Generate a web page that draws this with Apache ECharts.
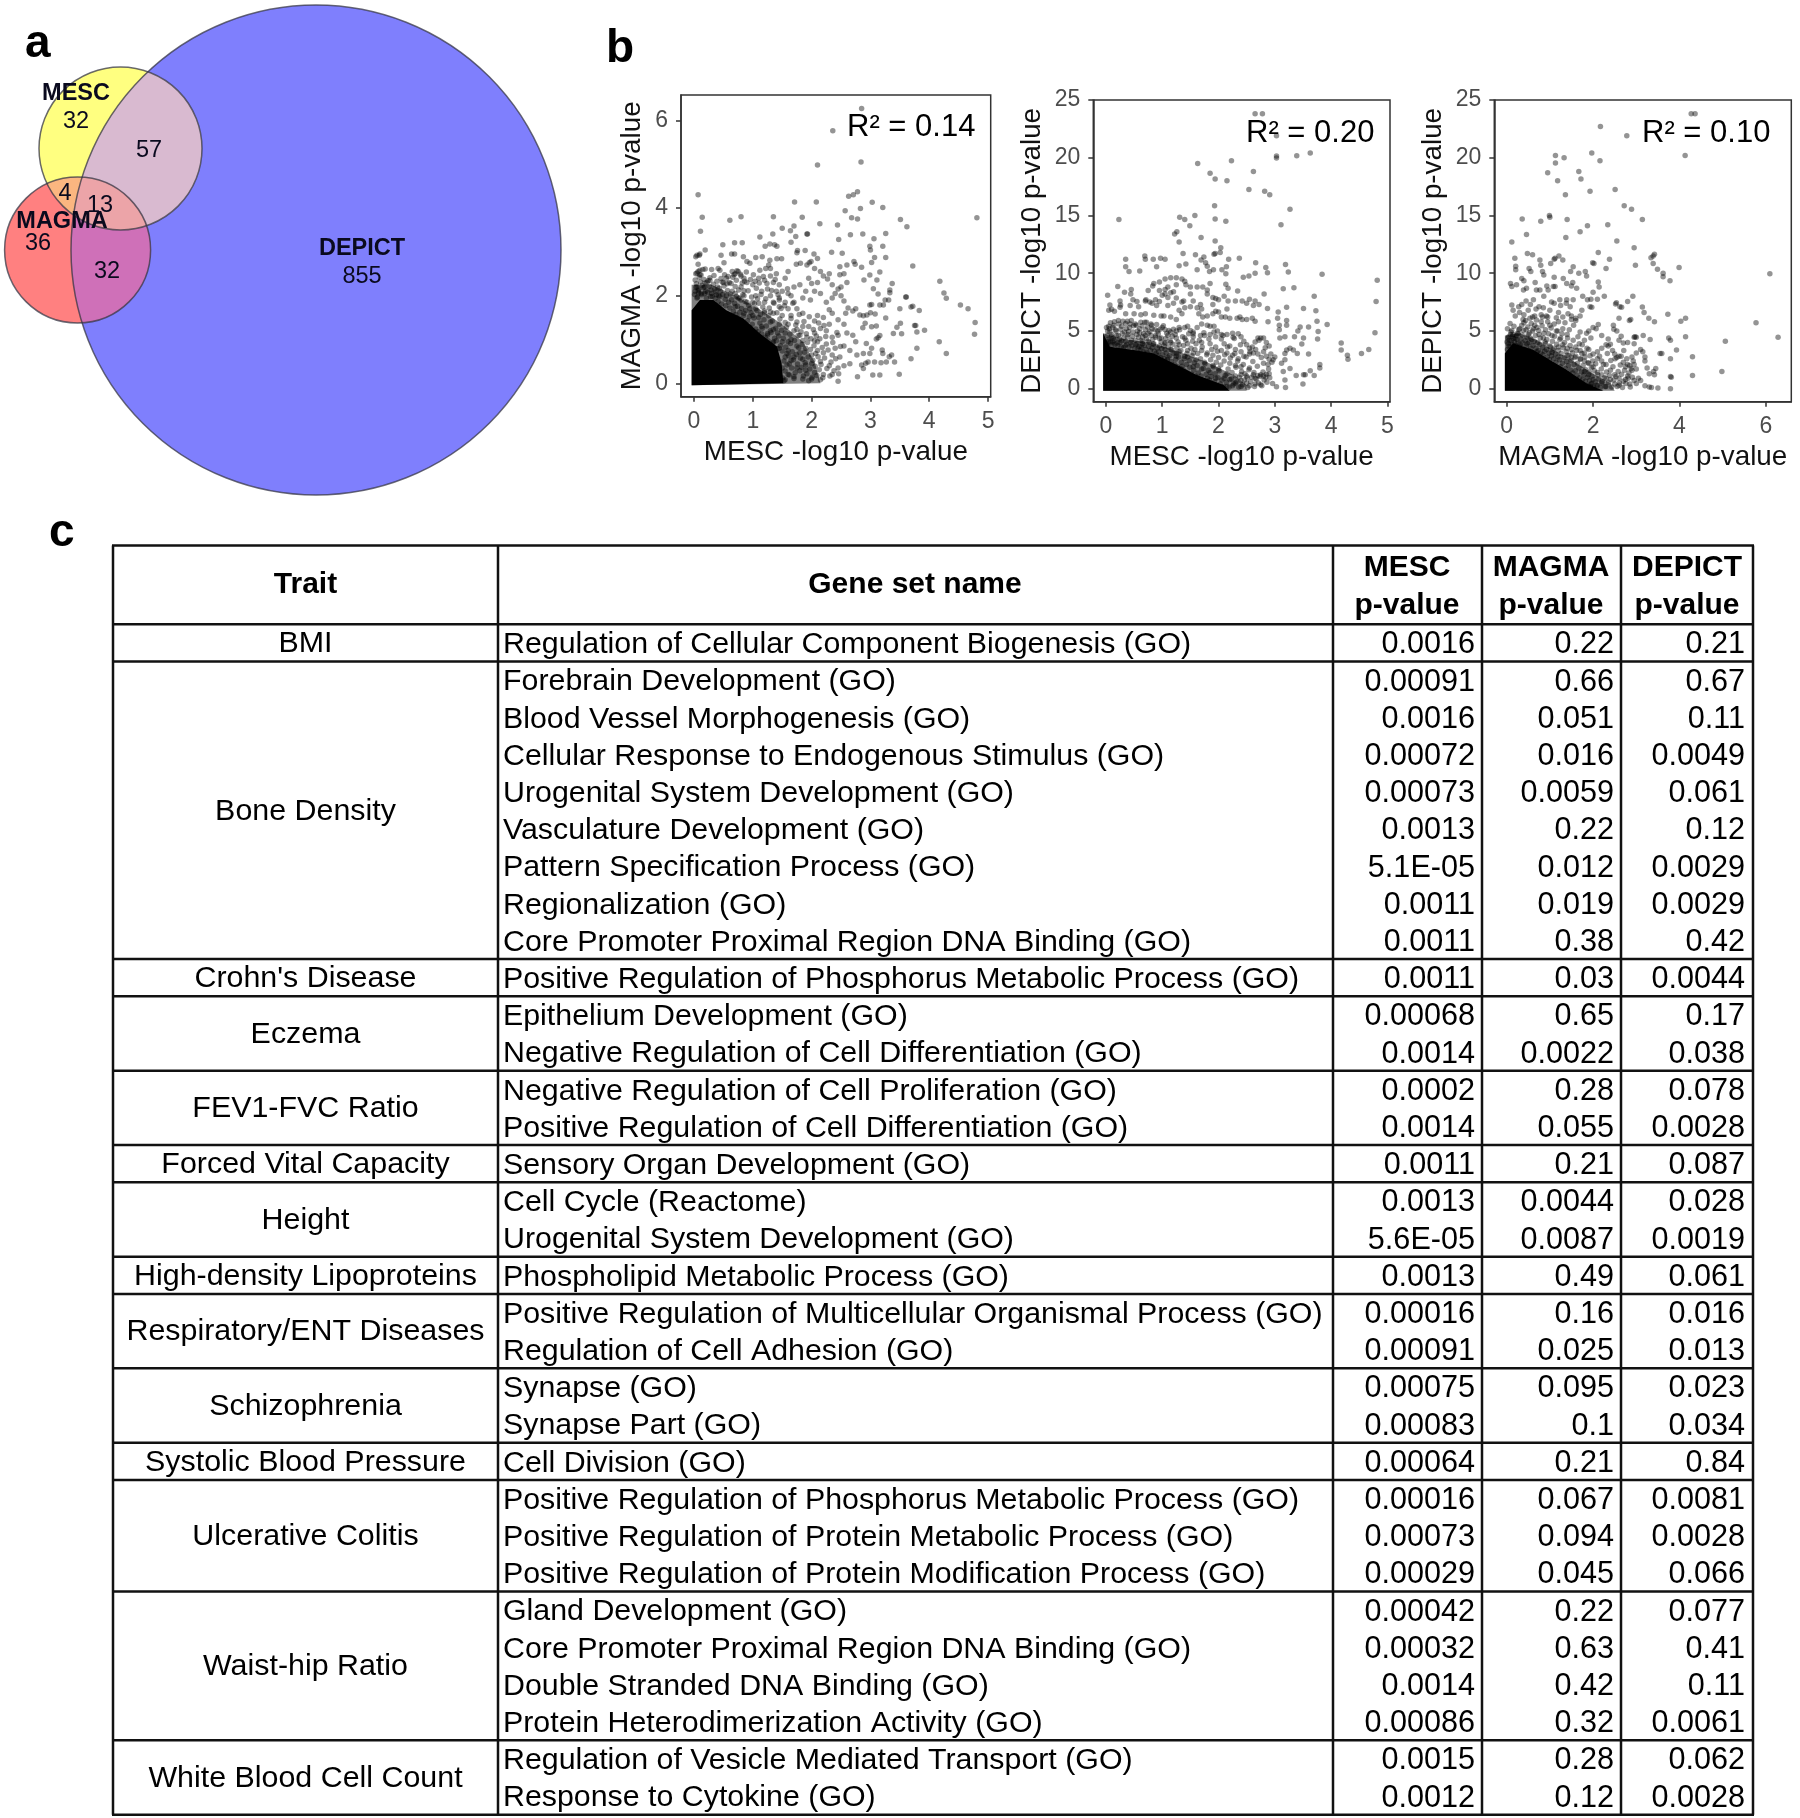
<!DOCTYPE html>
<html>
<head>
<meta charset="utf-8">
<title>Gene set enrichment comparison</title>
<script src="https://cdn.jsdelivr.net/npm/echarts@6/dist/echarts.min.js"></script>
<style>
  html, body { margin: 0; padding: 0; background: #fff; }
  #main { width: 1800px; height: 1818px; }
</style>
</head>
<body>
<div id="main"></div>
<script>
// panel a: venn circles, in the pixel-like units of a hidden 600x500 axis pair
const vennCircleX = [316, 120.5, 77.6];   // DEPICT, MESC, MAGMA
const vennCircleY = [250, 148.5, 250];
const vennCircleR = [245, 81.5, 73];
const vennNames = [['MESC', 76, 94], ['MAGMA', 62, 222], ['DEPICT', 362, 249]];
const vennCounts = [['32', 76, 122], ['57', 149, 151], ['4', 65, 194], ['13', 100, 206], ['36', 38, 244], ['32', 107, 272], ['855', 362, 277]];

// panel b: points; core* outlines the solid black mass, mid* the nearly solid zone round it
const coreMescMagma = [[-0.04,-0.04],[-0.04,1.67],[0.1,1.9],[0.33,1.9],[0.55,1.67],[0.84,1.48],[1.12,1.14],[1.41,0.84],[1.49,0.46],[1.52,0]];
const coreMescDepict = [[-0.05,-0.17],[-0.05,4.8],[0.07,3.64],[0.49,3.35],[0.84,3.06],[1.2,2.2],[1.61,1.18],[2.09,0.32],[2.2,-0.17]];
const coreMagmaDepict = [[-0.04,-0.17],[-0.04,3.06],[0.15,3.93],[0.62,3.35],[1,2.48],[1.39,1.62],[1.85,0.46],[2.24,-0.17]];
const midMescMagma = [[-0.04,-0.04],[-0.04,2.25],[0.3,2.25],[0.7,2],[1.1,1.7],[1.5,1.35],[1.85,0.95],[2.05,0.5],[2.15,0]];
const midMescDepict = [[-0.05,-0.17],[-0.05,4.8],[0.3,4.3],[0.8,4],[1.3,3.2],[1.8,2.3],[2.3,1.1],[2.5,0.3],[2.5,-0.17]];
const midMagmaDepict = [[-0.04,-0.17],[-0.04,4.6],[0.3,4.8],[0.7,4.2],[1.1,3.3],[1.5,2.5],[2,1.3],[2.4,0.5],[2.5,-0.17]];

const scatterMescMagma = [
[2.85,6.27],[2.36,5.76],[2.84,5.05],[2.1,4.98],[0.07,4.3],[2.78,4.37],[2.63,4.27],[2.71,4.3],[1.71,4.14],[2.08,4.14],[3.03,4.13],[3.21,4.01],[2.83,3.99],[2.57,3.94],[0.14,3.79],[0.61,3.72],[0.8,3.8],[1.35,3.8],[1.84,3.79],[2.68,3.78],[2.78,3.75],[3.51,3.74],[4.81,3.78],[2.14,3.64],[2.44,3.61],[3.62,3.57],[1.5,3.54],[1.7,3.59],[1.64,3.48],[0.11,3.47],[1.34,3.41],[1.92,3.41],[1.93,3.41],[1.73,3.35],[2.66,3.39],[2.87,3.41],[3.26,3.42],[1.12,3.34],[2.46,3.28],[3.06,3.3],[1.65,3.22],[0.49,3.16],[0.69,3.21],[0.82,3.21],[1.21,3.13],[1.29,3.18],[1.37,3.16],[1.41,3.13],[2.99,3.13],[3.21,3.13],[3,3.04],[0.19,3.04],[1.76,3.03],[1.89,3.03],[1.75,2.98],[2.04,2.95],[2.34,2.99],[2.52,2.97],[0.05,2.92],[0.09,2.92],[0.03,2.89],[0.1,2.95],[0.64,2.95],[0.69,2.95],[0.46,2.92],[0.84,2.89],[1.05,2.87],[1.16,2.89],[3.07,2.87],[3.26,2.87],[2.1,2.85],[0.9,2.78],[0.95,2.74],[0.07,2.72],[0.51,2.75],[1.29,2.81],[1.41,2.84],[1.49,2.84],[1.27,2.7],[1.74,2.72],[1.81,2.74],[1.96,2.75],[1.92,2.7],[1.99,2.78],[2.72,2.78],[3.02,2.76],[2.6,2.7],[2.74,2.72],[2.48,2.66],[2.85,2.65],[3.72,2.68],[0.1,2.58],[0.19,2.61],[0.3,2.6],[0.41,2.62],[0.44,2.58],
[4.18,2.33],[4.25,2.06],[4.29,1.94],[4.53,1.79],[4.66,1.7],[4.78,1.39],[4.77,1.12],[4.17,0.95],[4.29,0.68],[3.79,0.8],[3.69,0.56],[3.49,0.21],[3.16,0.19],[3.04,0.19],[2.78,0.15],[2.45,0.05],[3.92,1.21],[3.79,1.17],[3.75,1.32],[3.77,1.32],[3.61,1.97],[3.6,1.97],[3.72,1.76],[3.69,1.74],[3.83,1.66],[3.5,1.7],[3.31,1.9],[3.37,2.28],[3.33,2.13],[3.33,2.07],[3.11,2.36],[3.16,2.54],[2.89,2.36],[2.99,2.47],[3.13,2.04],[3.05,2.16],[3.25,1.9],[3.22,1.79],[3.16,1.79],[3.26,1.49],[2.99,1.79],[3.02,1.8],[3.08,1.58],[3,1.61],[3.51,1.37],[3.53,1.13],[3.39,1.14],[3.45,1.28],[3.16,1.09],[3.13,1.04],[3.1,1.01],[3.02,1.29],[3.1,1.31],[2.91,1.37],[2.87,1.27],[2.94,1.56],[2.88,1.54],[2.82,1.56],[3.21,0.68],[3.2,0.76],[3.36,0.65],[3.32,0.61],[3.41,0.49],[3.27,0.49],[3.18,0.47],[3.07,0.49],[2.93,0.91],[3.02,0.8],[2.99,0.68],[2.88,0.68],[2.77,0.65],[2.92,0.46],[2.96,0.49],[2.88,0.34],[2.85,0.42],
[2.05,2.62],[2.15,2.55],[2.2,2.45],[2.3,2.5],[2.27,2.38],[2.1,2.3],[2,2.28],[1.95,2.4],[2.35,2.25],[2.48,2.48],[2.55,2.5],[2.6,2.3],[2.5,2.2],[2.45,2.15],[2.4,2.05],[2.5,2],[2.35,1.95],[2.15,2.05],[2.05,2.1],[1.9,2.1],[1.85,1.95],[1.98,1.9],[2.25,1.85],[2.55,1.88],[2.62,1.72],[2.7,1.65],[2.58,1.6],[2.75,1.7],[2.3,1.68],[2.35,1.6],[2.45,1.45],[2.2,1.5],[2.1,1.55],[2.05,1.42],[2.3,1.35],[2.55,1.35],[2.6,1.15],[2.7,1.1],[2.45,1.1],[2.35,1.05],[2.25,1.2],[2.15,1.25],[2.05,1.15],[1.95,1.3],[1.92,1.05],[2.1,0.95],[2.25,0.9],[2.4,0.8],[2.55,0.85],[2.65,0.75],[2.75,0.95],[2.48,0.6],[2.35,0.65],[2.2,0.7],[2.1,0.75],[2,0.65],[1.9,0.8],[1.85,0.55],[2,0.45],[2.15,0.5],[2.3,0.4],[2.45,0.35],[2.55,0.4],[2.65,0.45],[1.75,0.35],[1.9,0.3],[2.05,0.25],[2.2,0.2],[2.35,0.2],[1.7,0.15],[1.85,0.1],[2,0.1],[2.15,0.08],[1.6,0.2],[1.55,0.08],
[1,2.25],[1.1,2.4],[1.2,2.35],[1.3,2.45],[1.22,2.62],[1.12,2.58],[1.3,2.62],[1.4,2.5],[1.35,2.3],[1.45,2.25],[1.55,2.4],[1.6,2.55],[1.5,2.1],[1.4,2.1],[1.25,2.15],[1.15,2.1],[1.05,2],[1.3,2],[1.45,1.95],[1.6,2.05],[1.7,2.2],[1.8,2.25],[1.65,2],[1.7,1.85],[1.55,1.85],[1.35,1.85],[1.2,1.85],[1.45,1.75],[1.6,1.7],[1.75,1.7],[1.85,1.6],[1.65,1.55],[1.5,1.55],[1.35,1.6],[1.2,1.65],[1.05,1.7],[1.1,1.5],[1.3,1.4],[1.45,1.35],[1.6,1.35],[1.75,1.4],[1.85,1.3],[1.7,1.2],[1.55,1.15],[1.42,1.15],[1.3,1.2],[1.8,1.1],[1.65,1],[1.5,0.95],[1.75,0.85],[1.6,0.75],[1.55,0.6],[1.7,0.6],[1.8,0.7],[1.62,0.45],[1.5,0.35],[0.85,2],[0.9,1.85],[0.75,1.95],[1,1.85],[0.95,1.7],[0.85,1.6],[0.7,1.75],[1,1.55],[1.15,1.3],[1.25,1.1],[1.35,0.95],[1.45,0.8],
[0.02,2.1],[0.05,2.2],[0.08,2.15],[0.12,2.05],[0.18,2.2],[0.22,2.3],[0.27,2.35],[0.2,2.1],[0.3,2.05],[0.35,2.15],[0.4,2.2],[0.45,2.1],[0.5,2.3],[0.55,2.4],[0.6,2.3],[0.65,2.55],[0.7,2.5],[0.75,2.55],[0.8,2.45],[0.72,2.35],[0.85,2.4],[0.9,2.3],[0.8,2.2],[0.65,2.1],[0.55,2],[0.7,2.05],[0.42,2],[0.03,2.5],[0.07,2.55],[0.1,2.48],[0.15,2.6],[0.05,1.95]
];
// flat x,y pairs for the crowded area next to the solid mass
const fringeMescMagma = [
.01,2.03,.04,2.27,.07,2.11,.02,2.36,.11,2.31,.13,2.02,.16,2.18,.06,1.97,.19,2.29,.23,2.08,.26,2.21,.28,1.98,.09,2.42,.17,2.37,.03,2.19,.21,1.95,.24,2.34,.14,2.24,.29,2.13,.05,2.52,.12,2.47,.08,2.06,.27,2.41,.18,2.05,
.31,1.99,.33,2.26,.36,1.94,.37,2.09,.39,2.33,.41,1.87,.43,2.17,.46,2.39,.47,1.81,.49,2.03,.51,2.22,.53,1.92,.54,1.77,.57,2.12,.58,2.44,.59,1.85,.34,2.46,.44,1.98,.52,2.48,.56,2.27,.38,2.02,.48,2.31,
.61,1.72,.62,2.04,.64,1.91,.66,2.42,.67,1.64,.69,1.83,.7,2.21,.71,1.57,.73,2.57,.74,1.76,.76,2.13,.77,1.95,.78,1.62,.79,2.49,.81,1.71,.83,2.02,.84,1.54,.86,2.33,.87,1.87,.88,1.66,.89,2.54,.63,2.28,.68,2.48,.72,1.98,.75,1.5,.82,2.29,.85,2.11,.8,1.9,
.91,1.43,.92,2.11,.93,1.78,.95,1.28,.96,2.37,.97,1.61,.98,1.97,.99,1.35,1.01,2.48,1.02,1.49,1.03,1.82,1.05,1.24,1.06,2.17,1.07,1.66,1.08,1.93,1.09,1.18,1.11,2.29,1.12,1.38,1.13,1.57,1.14,2.03,1.16,1.26,1.17,1.74,1.18,2.44,1.19,1.45,.94,1.52,1.04,2.33,1.1,1.83,1.15,1.13,1.2,1.61,
1.21,1.05,1.22,1.93,1.23,1.31,1.24,2.28,1.26,.97,1.27,1.54,1.28,1.72,1.29,.88,1.31,1.16,1.32,2.12,1.33,1.42,1.34,.92,1.36,1.83,1.37,1.03,1.38,2.37,1.39,1.26,1.41,1.61,1.42,.79,1.43,2.02,1.44,1.08,1.46,1.47,1.47,.86,1.48,1.71,1.49,1.21,1.25,1.14,1.3,1.63,1.35,1.23,1.4,.97,1.45,1.9,1.5,.74,
1.51,.12,1.52,1.03,1.53,.51,1.54,1.77,1.55,.28,1.56,.83,1.57,1.28,1.58,.42,1.59,2.16,1.61,.63,1.62,.19,1.63,1.12,1.64,.91,1.65,1.48,1.66,.35,1.67,.72,1.68,1.83,1.69,.54,1.71,.98,1.72,.24,1.73,1.33,1.74,.66,1.76,.44,1.77,1.09,1.78,.81,1.79,1.57,1.53,.06,1.6,.95,1.7,.11,1.75,1.23,1.8,.29,1.55,1.39,1.65,.52,1.58,.68,
1.81,.58,1.82,1.18,1.83,.37,1.84,.89,1.86,.17,1.87,1.41,1.88,.71,1.89,.47,1.91,1.13,1.92,.22,1.93,.93,1.94,.6,1.96,1.52,1.97,.33,1.98,.77,1.99,1.02,2.01,.14,2.02,.53,2.03,1.23,2.04,.86,2.06,.39,2.07,.68,2.08,1.08,2.09,.18,1.85,.98,1.95,.06,2.05,.97,1.9,.42,
2.11,.61,2.13,.31,2.14,1.02,2.16,.43,2.18,.82,2.19,.13,2.22,.58,2.24,1.07,2.26,.34,2.28,.76,2.31,.17,2.33,.49,2.36,.93,2.38,.29,2.41,.56,2.43,1.16,2.46,.22,2.49,.84,2.12,1.38,2.21,1.32
];

const scatterMescDepict = [
[2.65,23.8],[2.78,23.8],[3.03,21.9],[3.03,20.15],[3.03,19.98],[3.39,20.18],[3.63,20.4],[1.63,19.5],[2.23,19.75],[2.62,18.8],[1.85,18.65],[1.94,18.15],[2.15,18],[2.54,17.25],[2.82,17.1],[2.91,16.8],[1.93,15.85],[3.27,15.55],[0.23,14.65],[1.31,14.85],[1.4,14.65],[1.58,15],[1.94,14.7],[2.13,14.5],[1.49,14.1],[3.11,14.2],[1.26,13.6],[1.22,13.4],[1.69,13.1],[1.94,12.8],[1.3,12.7],[2.04,12.2],[2.03,11.8],[1.37,11.7],[1.59,11.6],[1.92,11.65],[1.94,11.7],[1.74,11.4],[1.69,11.15],[2.18,11.2],[2.37,11.3],[0.35,11.2],[0.35,10.55],[0.69,11.5],[0.7,11.2],[0.84,11.2],[0.97,11.3],[1.05,11.2],[1.3,10.65],[1.42,10.8],[1.77,10.9],[1.8,10.6],[2.66,10.9],[3.19,10.75],[2.84,10.5],[0.41,10.15],[0.6,10.2],[0.9,10.55],[1.62,10.3],[1.84,10.15],[1.91,10.3],[2.06,10.3],[2.14,10.55],[2.13,9.95],[2.44,9.65],[2.54,9.75],[2.65,10],[2.87,10.05],[3.24,10.1],[3.84,9.9],[4.82,9.4],[4.8,7.55],[4.78,4.85],[2.13,9.05],[2.17,8.7],[3.15,8.65],[3.34,8.75],[0.03,8.1],[0.21,8.85],[0.33,8.35],[0.45,8.6],[0.44,8.2],[2.34,8.45],[2.81,8.2],[3.7,8],[0.05,6.8],[0.1,6.87],[0.07,7.25],[0.25,7.6],[0.26,7.25],[0.25,7.05],[0.43,7.2],[0.55,7.55],[0.71,7.7],[0.75,8.5],[0.83,8.9],[3.51,6.95],[3.73,6.75],[3.75,5.85],[3.93,5.55],[3.77,4.95],[3.76,4.3],[3.6,5.35],[3.6,3],[3.45,5.35],[3.41,5],[3.35,4.5],[3.51,4.4],[3.48,3.87],[4.18,3.95],[4.18,3.35],[4.29,2.9],[4.3,2.55],[4.54,3.05],[4.67,3.4],[3.8,2.1],[3.8,1.8],[3.63,1.55],[3.7,1.15],[3.54,1.2],[3.51,1.2],[3.38,1.15],[3.5,0.4],[3.19,0.1],[3.03,0.17],[2.96,0.45],[3.06,6.65],[3.05,6.1],[3.08,5.5],[3.21,7.05],[3.21,5.9],[3.08,5.1],[3.21,5.5],[2.88,5.8],[2.87,6.95],[3.09,4.4],[3.18,4.5],[3.33,3.35],[3.4,3.05],[3.21,3.35],[3.18,3.05],[3.27,3.5],[3,2.75],[2.97,2.5],[3.18,2.5],[3.12,2.2],[3.27,1.75],[3.15,1.5],[3.18,0.75],
[0.05,5.4],[0.08,5.7],[0.15,5.8],[0.22,5.9],[0.3,5.85],[0.38,5.85],[0.45,5.9],[0.52,5.6],[0.62,5.75],[0.72,5.75],[0.8,5.6],[0.9,5.55],[1,5.3],[0.15,6.7],[0.35,6.5],[0.5,6.5],[0.62,6.4],[0.7,6.5],[0.85,6.35],[0.98,6.3],[1.03,6.3],[1.15,6.2],[1.25,6],[1.35,6.5],[1.3,6.8],[1.4,7],[1.5,7.1],[1.62,7],[1.68,7.3],[1.7,6.9],[1.65,6.5],[1.72,6.2],[1.8,6.3],[1.9,6.5],[1.95,6.7],[2.05,6.2],[2.12,6.2],[2.2,6.1],[2.33,6.1],[2.38,6.2],[2.42,6],[2.5,6],[2.6,6.1],[2.65,5.85],[0.48,7.7],[0.58,7.1],[0.7,7.6],[0.78,7.5],[0.82,7.4],[0.88,7.7],[0.9,7.2],[0.95,7.55],[1,8.1],[1.05,8.2],[1.1,7.9],[1.15,8.3],[1.05,8.6],[1.1,8.8],[1.2,8.4],[1.25,9.6],[1.15,9.6],[1.05,9.5],[0.95,9.25],[0.85,9.1],[0.95,8.5],[1.25,9],[1.35,9.5],[1.4,9.3],[1.42,9],[1.5,8.8],[1.62,8.8],[1.72,8.8],[1.8,8.55],[1.85,9.1],[1.8,8.2],[1.9,7.9],[1.95,7.8],[2,7.7],[2.1,8],[2.17,7.6],[1.5,8.2],[1.38,7.6],[1.35,7.5],[1.25,7.85],[1.2,7.4],[1.1,7.2],[1.55,7.6],[1.9,7.3],[2,6.65],[2.15,6.9],[2.3,7.6],[2.42,7.6],[2.5,7.4],[2.55,7.75],[2.65,7.6],[2.62,7.2],[2.72,7.3],
[1.05,5.1],[1.15,4.9],[1.25,5],[1.3,5.3],[1.4,5.3],[1.45,5.4],[1.5,5.05],[1.55,4.9],[1.62,5.3],[1.7,5.6],[1.8,5.5],[1.85,5.4],[1.92,5.4],[1.98,5],[2.05,4.7],[2.15,4.7],[2.25,4.8],[2.28,4.35],[2.35,4.75],[2.4,4.5],[2.45,4.1],[2.5,3.8],[2.55,3.5],[2.6,3.6],[2.65,4.05],[2.7,4.4],[2.75,4.4],[2.8,4.4],[2.85,4],[2.9,3.7],[2.62,3.1],[2.55,3],[2.7,3],[2.8,3.2],[2.85,2.8],[2.9,2.55],[2.95,2.3],[2.8,2.2],[1.1,4.6],[1.25,4.4],[1.4,4.4],[1.55,4.5],[1.68,4.6],[1.75,4.6],[1.85,4.7],[1.95,4.5],[2.05,4.3],[2.1,3.9],[2.2,3.7],[2.3,3.4],[2.4,3.2],[2.45,2.8],[2.35,2.6],[2.25,2.9],[2.15,3.1],[2.05,3.3],[1.95,3.6],[1.85,3.9],[1.7,4],[1.6,3.9],[1.45,3.9],[1.3,3.8],[1.15,4],[1.05,3.9],[1.15,3.4],[1.3,3.2],[1.45,3.3],[1.55,3.1],[1.7,3.3],[1.8,3.1],[1.9,2.9],[2,2.7],[2.1,2.4],[2.2,2.2],[2.3,2],[2.4,1.9],[2.55,1.8],[2.62,1.2],[2.7,1.15],[2.75,1.2],[2.8,1.1],[2.85,1.25],[2.9,1.3],[2.65,0.9],[2.5,1.1],[2.4,1.2],[2.3,1.1],[2.4,0.7],[2.5,0.5],[2.65,0.4],[2.75,0.35],[2.55,0.25],[2.3,0.5],[2.2,0.8],[2.15,1.3],[2,1.7],[1.9,2],[1.75,2.3],[1.6,2.5],[1.4,2.8],[1.25,2.8],[2.1,0.9],[1.85,1.4],[1.7,1.7],[1.55,1.9],[2.25,0.25],[2.4,0.2],[2.15,0.2],[1.95,0.9],[1.8,0.9],
[0.03,5],[0.07,4.9],[0.12,5.3],[0.18,5],[0.22,4.6],[0.28,5.4],[0.33,4.9],[0.38,4.5],[0.42,5.3],[0.48,4.9],[0.55,4.7],[0.6,5.2],[0.65,4.5],[0.7,5.1],[0.75,4.8],[0.82,5.2],[0.88,4.6],[0.92,5],[0.98,4.4],[0.15,4.2],[0.25,4],[0.35,4.1],[0.45,4.2],[0.55,3.9],[0.65,3.9],[0.75,4.1],[0.85,3.9],[0.95,3.7],[1.05,3.4],[0.05,4.3],[0.1,4.5],[0.02,4.6]
];
const fringeMescDepict = [
.02,3.9,.05,4.1,.03,3.7,.08,4.05,.11,3.8,.13,4.4,.16,3.85,.19,4.6,.21,3.75,.24,4.3,.27,3.6,.29,4.75,.06,5.2,.1,4.7,.14,5.5,.17,5.1,.2,3.95,.23,5.6,.26,5.15,.12,4.05,.01,5.3,.28,4.15,
.31,3.55,.32,4.4,.34,3.7,.36,5.2,.37,3.85,.39,4.7,.41,3.6,.43,5.6,.44,4,.46,3.75,.47,4.55,.49,5.45,.51,3.5,.52,4.2,.53,3.8,.56,5,.57,3.45,.58,4.45,.59,3.65,.4,4.95,.35,5.65,.54,5.5,.6,4.85,
.61,3.35,.62,4.15,.63,3.6,.64,5.45,.66,3.2,.67,4.75,.68,3.75,.69,5.75,.71,3.4,.72,4.35,.73,3.1,.74,5.35,.76,3.65,.77,4,.78,4.95,.79,3.3,.81,5.5,.82,3.55,.83,4.25,.84,3.85,.86,3.25,.87,5.1,.88,4.45,.89,3.05,.7,4.6,.8,4.6,.65,4.1,
.91,3.5,.92,2.85,.93,4.75,.94,3.2,.96,5.15,.97,2.7,.98,4.05,.99,3.45,1.01,2.95,1.02,5.45,1.03,3.7,1.04,2.6,1.06,4.35,1.07,3.1,1.08,4.8,1.09,2.5,1.11,3.6,1.12,5.05,1.13,2.85,1.14,4.15,1.16,2.35,1.17,3.35,1.18,4.55,1.19,3.85,.95,4.35,1.05,4,1.1,2.7,1.2,5.15,
1.21,3.05,1.22,2.1,1.23,4.7,1.24,2.55,1.26,3.55,1.27,1.9,1.28,4.05,1.29,2.75,1.31,5.1,1.32,1.75,1.33,3.3,1.34,2.3,1.36,4.5,1.37,1.65,1.38,3.75,1.39,2.6,1.41,1.5,1.42,4.2,1.43,2.1,1.44,3.05,1.46,1.35,1.47,4.75,1.48,2.45,1.49,1.85,1.51,3.5,1.52,1.25,1.53,2.85,1.54,4.1,1.56,1.6,1.57,2.25,1.58,3.4,1.59,1.1,1.25,3.1,1.35,1.95,1.45,2.75,1.55,4.75,
1.61,.95,1.62,2,1.63,3.05,1.64,1.35,1.66,4.2,1.67,.8,1.68,2.6,1.69,1.1,1.71,3.6,1.72,.7,1.73,1.75,1.74,4.85,1.76,2.15,1.77,.55,1.78,1.25,1.79,2.95,1.81,.45,1.82,1.6,1.83,4.3,1.84,.75,1.86,2.5,1.87,1.05,1.88,3.4,1.89,.35,1.91,1.9,1.92,4.9,1.93,.6,1.94,1.3,1.96,2.3,1.97,.25,1.98,3.25,1.99,.95,
2.01,1.55,2.03,.4,2.04,2.05,2.06,.75,2.08,4.6,2.09,.2,2.11,2.95,2.12,1.15,2.14,.55,2.16,3.6,2.17,1.7,2.19,.15,2.21,2.65,2.23,.85,2.24,1.4,2.26,4.45,2.27,.4,2.29,3.05,2.31,1.85,2.32,.6,2.34,2.4,2.36,.15,2.37,1,2.39,3.8,2.41,1.5,2.43,.35,2.44,2.1,2.46,.75,2.47,1.3,2.49,2.75,2.51,.95,2.52,.1,2.54,1.65,2.56,3.2,2.57,.6,2.59,1,2.61,2.35,2.63,1.4,2.64,.2,2.66,3.4,2.67,.85,2.69,1.95,2.71,.5,2.72,4.2,2.74,1.05,2.76,2.7,2.77,.25,2.79,1.45,2.81,.75,2.83,3.55,2.84,1,2.86,.55,2.88,2.1,2.89,1.7,2.91,.95,2.93,3
];

const scatterMagmaDepict = [
[2.17,22.7],[2.78,21.9],[4.27,23.8],[4.36,23.8],[4.13,20.2],[1.13,20.2],[1.33,20],[1.97,20.4],[2.16,19.75],[1.13,19.55],[1.67,18.8],[1.72,18.15],[0.95,18.7],[1.18,18],[1.93,17.1],[2.51,17.25],[1.36,16.8],[2.72,15.85],[2.89,15.55],[3.14,14.65],[0.36,14.7],[0.99,15],[1,14.85],[0.79,14.5],[1.4,14.65],[1.87,14.1],[2.34,14.2],[0.46,13.35],[1.7,13.6],[1.37,13.1],[2.55,12.8],[0.12,12.7],[2.95,12.2],[2.12,11.8],[0.48,11.7],[0.6,11.6],[3.42,11.65],[3.39,11.5],[3.34,11.35],[3.39,10.85],[3.49,10.35],[3.62,10],[3.62,9.7],[3.78,9.35],[3.99,10.5],[2.98,10.7],[2.38,11.2],[0.19,11.3],[0.21,10.6],[0.21,10.3],[0.52,10.4],[0.56,10.15],[0.77,11.15],[0.79,10.7],[0.83,10.15],[0.86,9.85],[1.02,10.85],[1.1,11.2],[1.21,11.5],[1.3,11.15],[1.12,11.3],[6.09,9.95],[5.77,5.7],[6.28,4.45],[5.06,4.1],[4.98,1.5],[4.3,2.77],[4.3,1.15],[4.14,6.1],[4.03,5.85],[3.73,6.45],[4.14,4.5],[3.75,4.4],[3.79,4.2],[3.79,2.6],[3.55,3.05],[3.59,3.05],[3.93,3.35],[3.79,1.05],[3.81,1],[3.79,0],[3.14,7.07],[3.18,6.6],[3.29,6.1],[3.42,5.8],[3.32,4.27],[3.16,4.6],[2.97,4.5],[2.92,8],[2.8,7.55],[2.62,7.1],[2.66,7.05],[2.54,7.45],[2.52,7.33],[2.87,6],[2.84,5.9],[2.6,6.1],[2.47,5.5],[2.26,8],[2.1,7.75],[1.95,7.75],[1.87,7.7],[2.14,8.8],[2.12,9.25],[2,8.35],[1.85,9.75],[1.82,10.15],[1.99,10.9],[2.02,10.85],[2.3,10.4],[1.54,10.55],[1.48,10.15],[1.67,10],[1.53,9.2],[1.62,8.7],[1.76,8],[1.1,9.65],[1.31,9.55],[1.39,9.1],[1.5,8.9],[1.54,7.7],[0.66,9.2],[0.93,8.9],[1.08,8.85],[1.12,8.85],[0.77,8.55],[0.96,8.55],[0.86,8],[0.09,9.1],[0.12,8.85],[0.12,7.25],[0.15,6.8],[0.02,5.2],[0.08,5.65],[0.23,9],[0.35,9.55],[0.4,9.35],[0.46,8.7],[0.39,8.55],[0.69,8.55],[0.62,7.7],[1.04,7.5],[1.23,7.7],[1.39,7.7],[1.47,7.1],[1.74,6.8],[1.93,7.1],[1.97,7.05],
[0.05,4.5],[0.1,4.9],[0.15,4.7],[0.2,4.4],[0.25,4.8],[0.3,5.2],[0.35,5.5],[0.4,5.7],[0.45,5.1],[0.5,4.7],[0.55,4.4],[0.6,5],[0.65,5.5],[0.7,5.3],[0.75,4.7],[0.8,5.8],[0.85,4.4],[0.9,5.1],[0.95,6.2],[1,5.5],[1.05,4.6],[1.1,5.6],[1.15,5],[1.2,5.8],[1.25,4.4],[1.3,5.2],[1.35,5.7],[1.4,4.7],[1.45,5.1],[1.5,6],[1.55,5.5],[1.6,6.1],[1.65,4.5],[1.7,4.9],[1.75,3.8],[1.8,4.2],[1.85,4.8],[1.9,5],[1.95,4.4],[2,5.3],[0.2,6.3],[0.3,6.6],[0.35,7.3],[0.28,7.1],[0.4,6.4],[0.45,7.6],[0.5,6.8],[0.55,7.3],[0.6,6.2],[0.68,6.9],[0.75,7.1],[0.8,6.4],[0.85,7],[0.92,6.3],[1,6.8],[1.1,7.4],[1.2,6.6],[1.25,7.2],[1.3,6.2],[1.38,7.4],[1.42,6.5],[1.5,6.3],[1.6,5.9],[1.7,6.3],
[0.9,3.9],[1,3.7],[1.1,3.5],[1.2,3.6],[1.3,3.8],[1.4,3.5],[1.5,3.4],[1.6,3.6],[1.7,3.3],[1.8,3.1],[1.9,3.4],[2,3],[2.1,3.2],[2.2,3.5],[2.3,3.8],[2.35,3.7],[2.4,3.85],[2.45,3.3],[2.5,3],[2.55,2.7],[2.6,2.8],[2.65,2.8],[2.7,2.3],[2.75,1.9],[2.8,2.1],[2.85,2],[2.9,1.6],[2.95,2.1],[3,1.7],[3.05,0.9],[3.1,0.7],[2.95,0.7],[3,0.45],[2.85,0.4],[2.7,0.65],[2.6,0.9],[2.5,1.2],[2.4,1.6],[2.3,2.1],[2.2,2.4],[2.1,2.6],[2,1.9],[1.9,2.2],[1.8,2.4],[1.7,2.6],[1.6,2.8],[1.5,2.7],[1.4,2.9],[2.3,0.9],[2.4,0.8],[2.5,0.4],[2.6,0.3],[2.2,0.5],[2.3,0.2],[2.75,0.8],[2.8,1.1],[2.2,1.2],[2.1,1.4],[2,0.8],[1.95,0.4],[2.1,0.25],[1.9,1.2],[1.8,1.5],[3.2,2.75],[3.15,3.2],[3.1,3.4],[3.2,2.4],[3.25,1.8],[3.3,1.3],[3.4,1.5],[3.45,1.75],[3.42,1.2],[3.2,0.25],[3.35,0.1],[3.5,0.05],[3.3,0.15],[2.9,2.75],[2.95,3.9],[3,3.1],[2.7,3.95],[2.8,4],[2.6,4.2],[2.65,4.55],[2.55,5],[2.48,5.15],[2.35,4.3],[2.2,4.6],[2.12,5.55],[2.07,5.2],[2.95,4.45],[3,4.45]
];
const fringeMagmaDepict = [
.02,3.4,.04,3.9,.06,4.2,.08,3.7,.03,4.4,.11,4.15,.13,3.85,.05,3.65,.16,4.35,.18,4.05,.21,3.75,.23,4.6,.26,3.95,.28,5.1,.12,5.05,.17,5.4,.24,4.25,.09,4.7,.29,3.6,.01,4.05,.14,4.55,.27,4.75,
.31,3.85,.33,4.3,.34,3.55,.36,4.65,.37,3.95,.39,5.05,.41,3.4,.43,4.15,.44,5.9,.46,3.7,.47,4.45,.49,5.35,.51,3.3,.52,4,.53,4.85,.56,3.5,.57,5.65,.58,4.25,.59,3.15,.38,6,.48,3.9,.54,6.1,
.61,3.75,.62,5.2,.63,3.05,.64,4.1,.66,2.95,.67,4.6,.68,3.5,.69,5.95,.71,2.85,.72,4,.73,3.3,.74,5.05,.76,2.7,.77,3.85,.78,4.4,.79,3.1,.81,2.6,.82,5.45,.83,3.55,.84,2.95,.86,4.8,.87,2.5,.88,3.25,.89,4.05,.65,6.3,.7,3.2,.83,6.2,
.91,2.35,.92,3.4,.93,4.25,.94,2.75,.96,2.2,.97,4.75,.98,3.1,.99,2.5,1.01,3.6,1.02,2.15,1.03,5.25,1.04,2.85,1.06,4.1,1.07,2.05,1.08,3.35,1.09,2.6,1.11,4.55,1.12,1.95,1.13,3,1.14,2.3,1.16,3.85,1.17,1.85,1.18,5,1.19,2.75,.95,5.8,1.05,3.15,1.15,6.15,1.2,3.3,
1.21,1.75,1.22,2.5,1.23,4.25,1.24,1.9,1.26,3.05,1.27,1.6,1.28,4.75,1.29,2.2,1.31,3.55,1.32,1.5,1.33,2.7,1.34,4,1.36,1.75,1.37,1.35,1.38,3.2,1.39,2.35,1.41,4.4,1.42,1.25,1.43,2,1.44,2.85,1.46,1.1,1.47,3.75,1.48,1.6,1.49,2.45,1.51,.95,1.52,3.1,1.53,1.35,1.54,4.2,1.56,2.1,1.57,.85,1.58,2.7,1.59,1.55,
1.61,.75,1.62,3.3,1.63,1.15,1.64,2.2,1.66,.6,1.67,1.8,1.68,3.9,1.69,.95,1.71,2.55,1.72,.5,1.73,1.45,1.74,3.05,1.76,.8,1.77,2,1.78,.35,1.79,1.2,1.81,2.75,1.82,.65,1.83,1.65,1.84,.3,1.86,3.5,1.87,1,1.88,2.25,1.89,.25,1.91,1.45,1.92,.7,1.93,2.85,1.94,.2,1.96,1.85,1.97,.45,1.98,1.1,1.99,2.4,
2.01,.15,2.03,1.55,2.05,.6,2.06,2.15,2.08,.3,2.11,1.2,2.13,.85,2.15,2.8,2.17,.1,2.19,1.7,2.21,.6,2.24,2.1,2.26,.95,2.28,.2,2.31,1.45,2.33,3.05,2.36,.55,2.38,1.15,2.41,2.45,2.43,.15,2.46,1.9,2.48,.75,2.51,2.6,2.53,1.05,2.56,.2,2.58,1.5,2.61,.5,2.63,2.05,2.66,1.25,2.68,.1,2.71,3.3,2.73,1.6,2.76,.45,2.78,2.6,2.81,.9,2.83,1.35,2.86,.15,2.88,1.75,2.91,1,2.93,2.4
];

const xTicksMesc = [0, 1, 2, 3, 4, 5];
const xTicksMagma = [0, 2, 4, 6];
const yTicksMagma = [0, 2, 4, 6];
const yTicksDepict = [0, 5, 10, 15, 20, 25];
const r2Labels = ['R² = 0.14', 'R² = 0.20', 'R² = 0.10'];

// panel c: table columns
const tableHeaders = ['Trait', 'Gene set name', 'MESC\np-value', 'MAGMA\np-value', 'DEPICT\np-value'];
const traits = ['BMI', 'Bone Density', "Crohn's Disease", 'Eczema', 'FEV1-FVC Ratio', 'Forced Vital Capacity', 'Height', 'High-density Lipoproteins', 'Respiratory/ENT Diseases', 'Schizophrenia', 'Systolic Blood Pressure', 'Ulcerative Colitis', 'Waist-hip Ratio', 'White Blood Cell Count'];
const traitRows = [1, 8, 1, 2, 2, 1, 2, 1, 2, 2, 1, 3, 4, 2];
const geneSets = [
  'Regulation of Cellular Component Biogenesis (GO)',
  'Forebrain Development (GO)', 'Blood Vessel Morphogenesis (GO)', 'Cellular Response to Endogenous Stimulus (GO)', 'Urogenital System Development (GO)', 'Vasculature Development (GO)', 'Pattern Specification Process (GO)', 'Regionalization (GO)', 'Core Promoter Proximal Region DNA Binding (GO)',
  'Positive Regulation of Phosphorus Metabolic Process (GO)',
  'Epithelium Development (GO)', 'Negative Regulation of Cell Differentiation (GO)',
  'Negative Regulation of Cell Proliferation (GO)', 'Positive Regulation of Cell Differentiation (GO)',
  'Sensory Organ Development (GO)',
  'Cell Cycle (Reactome)', 'Urogenital System Development (GO)',
  'Phospholipid Metabolic Process (GO)',
  'Positive Regulation of Multicellular Organismal Process (GO)', 'Regulation of Cell Adhesion (GO)',
  'Synapse (GO)', 'Synapse Part (GO)',
  'Cell Division (GO)',
  'Positive Regulation of Phosphorus Metabolic Process (GO)', 'Positive Regulation of Protein Metabolic Process (GO)', 'Positive Regulation of Protein Modification Process (GO)',
  'Gland Development (GO)', 'Core Promoter Proximal Region DNA Binding (GO)', 'Double Stranded DNA Binding (GO)', 'Protein Heterodimerization Activity (GO)',
  'Regulation of Vesicle Mediated Transport (GO)', 'Response to Cytokine (GO)'
];
const mescP = ['0.0016', '0.00091', '0.0016', '0.00072', '0.00073', '0.0013', '5.1E-05', '0.0011', '0.0011', '0.0011', '0.00068', '0.0014', '0.0002', '0.0014', '0.0011', '0.0013', '5.6E-05', '0.0013', '0.00016', '0.00091', '0.00075', '0.00083', '0.00064', '0.00016', '0.00073', '0.00029', '0.00042', '0.00032', '0.0014', '0.00086', '0.0015', '0.0012'];
const magmaP = ['0.22', '0.66', '0.051', '0.016', '0.0059', '0.22', '0.012', '0.019', '0.38', '0.03', '0.65', '0.0022', '0.28', '0.055', '0.21', '0.0044', '0.0087', '0.49', '0.16', '0.025', '0.095', '0.1', '0.21', '0.067', '0.094', '0.045', '0.22', '0.63', '0.42', '0.32', '0.28', '0.12'];
const depictP = ['0.21', '0.67', '0.11', '0.0049', '0.061', '0.12', '0.0029', '0.0029', '0.42', '0.0044', '0.17', '0.038', '0.078', '0.0028', '0.087', '0.028', '0.0019', '0.061', '0.016', '0.013', '0.023', '0.034', '0.84', '0.0081', '0.0028', '0.066', '0.077', '0.41', '0.11', '0.0061', '0.062', '0.0028'];

const FONT = '"Liberation Sans", Arial, sans-serif';
const chart = echarts.init(document.getElementById('main'));

function vennItem(params, api) {
  const c = vennCircleX.map((x, i) => {
    const p = api.coord([x, vennCircleY[i]]);
    return { cx: p[0], cy: p[1], r: api.size([vennCircleR[i], 0])[0] };
  });
  const disc = (s, fill) => ({ type: 'circle', shape: s, style: { fill: fill } });
  const clipped = (s, fill, clip) => Object.assign(disc(s, fill), { clipPath: { type: 'circle', shape: clip } });
  const ring = s => ({ type: 'circle', shape: s, style: { fill: 'none', stroke: 'rgba(55,55,70,0.75)', lineWidth: 1.5 } });
  return {
    type: 'group',
    children: [
      disc(c[0], '#7f7ffd'), disc(c[1], '#ffff80'), disc(c[2], '#ff8080'),
      clipped(c[0], '#d9bad0', c[1]),
      clipped(c[0], '#cf70b8', c[2]),
      clipped(c[1], '#fbb680', c[2]),
      { type: 'group', clipPath: { type: 'circle', shape: c[0] }, children: [clipped(c[1], '#eca4a8', c[2])] },
      ring(c[0]), ring(c[1]), ring(c[2])
    ]
  };
}

function labelItem(params, api) {
  const p = api.coord([api.value(1), api.value(2)]);
  return { type: 'text', x: p[0], y: p[1], style: { text: api.value(0), font: (params.seriesIndex === 1 ? 'bold ' : '') + '23.5px ' + FONT, fill: '#0a0a1e', align: 'center', verticalAlign: 'middle', textAlign: 'center', textVerticalAlign: 'middle' } };
}

function coreItem(core, fill) {
  return function (params, api) {
    return { type: 'polygon', shape: { points: core.map(d => api.coord(d)) }, style: { fill: fill } };
  };
}

function pairs(flat) {
  const out = [];
  for (let i = 0; i < flat.length; i += 2) out.push([flat[i], flat[i + 1]]);
  return out;
}

function axisSet(min, max, ticks, name, gap, margin, extra) {
  return Object.assign({
    type: 'value', min: min, max: max, name: name, nameLocation: 'middle', nameGap: gap,
    nameTextStyle: { fontFamily: FONT, fontSize: 27.8, color: '#111' },
    splitLine: { show: false },
    axisLine: { show: true, onZero: false, lineStyle: { color: '#333', width: 1.5 } },
    axisTick: { show: true, length: 5, customValues: ticks, lineStyle: { color: '#333', width: 1.5 } },
    axisLabel: { customValues: ticks, fontFamily: FONT, fontSize: 23, color: '#4d4d4d', margin: margin }
  }, extra || {});
}

function plotGrid(left, top, right, bottom) {
  return { left: left, top: top, width: right - left, height: bottom - top, show: true, borderColor: '#333', borderWidth: 1.5, backgroundColor: '#fff' };
}

const scatterSets = [scatterMescMagma.concat(pairs(fringeMescMagma)), scatterMescDepict.concat(pairs(fringeMescDepict)), scatterMagmaDepict.concat(pairs(fringeMagmaDepict))];
const coreSets = [coreMescMagma, coreMescDepict, coreMagmaDepict];
const midSets = [midMescMagma, midMescDepict, midMagmaDepict];

const series = [
  { type: 'custom', xAxisIndex: 0, yAxisIndex: 0, clip: false, silent: true, data: [[0, 0]], renderItem: vennItem },
  { type: 'custom', xAxisIndex: 0, yAxisIndex: 0, clip: false, silent: true, encode: { x: 1, y: 2 }, data: vennNames, renderItem: labelItem },
  { type: 'custom', xAxisIndex: 0, yAxisIndex: 0, clip: false, silent: true, encode: { x: 1, y: 2 }, data: vennCounts, renderItem: labelItem }
];
scatterSets.forEach((points, i) => {
  series.push({ type: 'custom', xAxisIndex: i + 1, yAxisIndex: i + 1, silent: true, data: [[0, 0]], renderItem: coreItem(midSets[i], 'rgba(0,0,0,0.5)') });
  series.push({ type: 'custom', xAxisIndex: i + 1, yAxisIndex: i + 1, silent: true, data: [[0, 0]], renderItem: coreItem(coreSets[i], '#000') });
  series.push({ type: 'scatter', xAxisIndex: i + 1, yAxisIndex: i + 1, symbolSize: 5.5, silent: true, data: points, itemStyle: { color: '#000', opacity: 0.42 } });
});

// table drawn from the column arrays
const colX = [113, 498, 1333, 1482, 1621, 1753];
const tableTop = 545.5, headerBottom = 624.3, rowH = 37.2;
const valueRight = [1475, 1614, 1745];
const headerCenter = [305.5, 915, 1407, 1551, 1687];
const rowCount = geneSets.length;
const tableBottom = headerBottom + rowH * rowCount;
const graphic = [];

function addText(text, x, y, size, bold, align, fill) {
  graphic.push({ type: 'text', x: x, y: y, silent: true, style: { text: text, font: (bold ? 'bold ' : '') + size + 'px ' + FONT, fill: fill || '#000', textAlign: align, textVerticalAlign: 'middle', align: align, verticalAlign: 'middle' } });
}
function addLine(x1, y1, x2, y2, w) {
  graphic.push({ type: 'line', silent: true, shape: { x1: x1, y1: y1, x2: x2, y2: y2 }, style: { stroke: '#111', lineWidth: w } });
}

[0, 1, 2, 3, 4, 5].forEach(i => addLine(colX[i], tableTop, colX[i], tableBottom, 2.5));
addLine(colX[0] - 1, tableTop, colX[5] + 1, tableTop, 2.5);
addLine(colX[0] - 1, headerBottom, colX[5] + 1, headerBottom, 2.5);

tableHeaders.forEach((h, i) => {
  const lines = h.split('\n');
  if (lines.length === 1) addText(h, headerCenter[i], 585, 30, true, 'center');
  else { addText(lines[0], headerCenter[i], 568, 30, true, 'center'); addText(lines[1], headerCenter[i], 606, 30, true, 'center'); }
});

let row = 0;
traits.forEach((t, i) => {
  const n = traitRows[i];
  addText(t, headerCenter[0], headerBottom + rowH * (row + n / 2) + 1, 30.4, false, 'center');
  row += n;
  addLine(colX[0] - 1, headerBottom + rowH * row, colX[5] + 1, headerBottom + rowH * row, 2.5);
});
geneSets.forEach((g, i) => {
  const y = headerBottom + rowH * (i + 0.5) + 2;
  addText(g, 503, y, 30.35, false, 'left');
  addText(mescP[i], valueRight[0], y, 30.6, false, 'right');
  addText(magmaP[i], valueRight[1], y, 30.6, false, 'right');
  addText(depictP[i], valueRight[2], y, 30.6, false, 'right');
});

addText('a', 25, 44, 46, true, 'left');
addText('b', 606, 49, 46, true, 'left');
addText('c', 49, 533, 46, true, 'left');
addText(r2Labels[0], 847, 127, 31, false, 'left');
addText(r2Labels[1], 1246, 133, 31, false, 'left');
addText(r2Labels[2], 1642, 133, 31, false, 'left');

chart.setOption({
  animation: false,
  backgroundColor: '#fff',
  grid: [
    { left: 0, top: 0, width: 600, height: 500, show: false },
    plotGrid(681, 95, 990.7, 396.7),
    plotGrid(1093.3, 100, 1390, 401.7),
    plotGrid(1494.3, 100, 1791.3, 401.7)
  ],
  xAxis: [
    { type: 'value', gridIndex: 0, min: 0, max: 600, show: false },
    axisSet(-0.221, 5.045, xTicksMesc, 'MESC -log10 p-value', 42, 13, { gridIndex: 1 }),
    axisSet(-0.225, 5.047, xTicksMesc, 'MESC -log10 p-value', 42, 13, { gridIndex: 2 }),
    axisSet(-0.285, 6.586, xTicksMagma, 'MAGMA -log10 p-value', 42, 13, { gridIndex: 3 })
  ],
  yAxis: [
    { type: 'value', gridIndex: 0, min: 0, max: 500, inverse: true, show: false },
    axisSet(-0.304, 6.578, yTicksMagma, 'MAGMA -log10 p-value', 35, 13, { gridIndex: 1, nameRotate: 90 }),
    axisSet(-1.126, 25, yTicksDepict, 'DEPICT -log10 p-value', 47, 13, { gridIndex: 2, nameRotate: 90 }),
    axisSet(-1.126, 25, yTicksDepict, 'DEPICT -log10 p-value', 47, 13, { gridIndex: 3, nameRotate: 90 })
  ],
  series: series,
  graphic: { elements: graphic }
});
</script>
</body>
</html>
